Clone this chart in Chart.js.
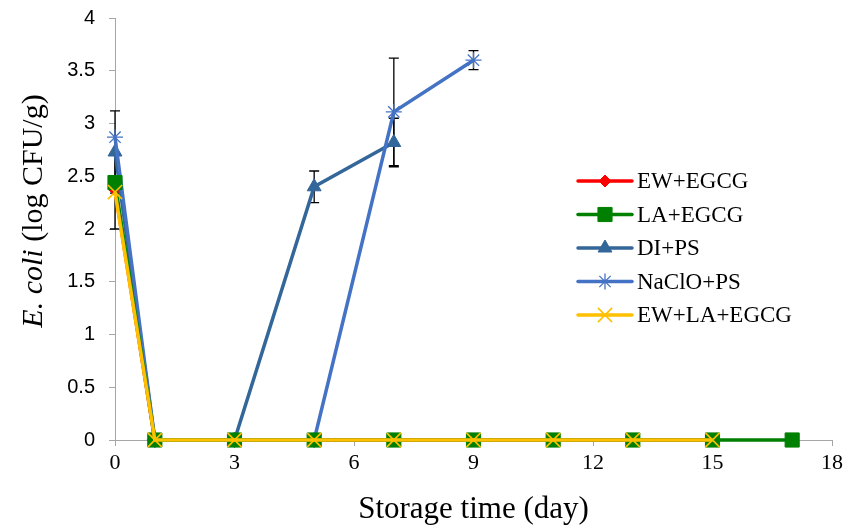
<!DOCTYPE html>
<html>
<head>
<meta charset="utf-8">
<script src="https://cdn.jsdelivr.net/npm/chart.js@4"></script>
<style>
  html, body { margin: 0; padding: 0; background: #ffffff; }
  #wrap { width: 846px; height: 528px; position: relative; }
</style>
</head>
<body>
<div id="wrap"><canvas id="c" width="846" height="528"></canvas></div>
<script>
// Storage days sampled for each treatment
const daysEW = [0, 1, 3, 5, 7, 9, 11, 13, 15];
const daysLA = [0, 1, 3, 5, 7, 9, 11, 13, 15, 17];
const daysDI = [0, 1, 3, 5, 7];
const daysNaClO = [0, 1, 3, 5, 7, 9];
const daysEWLA = [0, 1, 3, 5, 7, 9, 11, 13, 15];

// E. coli counts (log CFU/g)
const ewEgcg = [2.37, 0, 0, 0, 0, 0, 0, 0, 0];
const laEgcg = [2.44, 0, 0, 0, 0, 0, 0, 0, 0, 0];
const diPs = [2.73, 0, 0, 2.40, 2.82];
const naclo = [2.87, 0, 0, 0, 3.11, 3.60];
const ewLaEgcg = [2.35, 0, 0, 0, 0, 0, 0, 0, 0];

// Standard deviations (0 = no bar drawn)
const errEw = [0, 0, 0, 0, 0, 0, 0, 0, 0];
const errLa = [0, 0, 0, 0, 0, 0, 0, 0, 0, 0];
const errDi = [0.39, 0, 0, 0.15, 0.23];
const errNaClO = [0, 0, 0, 0, 0.51, 0.09];
const errEwLa = [0.35, 0, 0, 0, 0, 0, 0, 0, 0];

const seriesNames = ['EW+EGCG', 'LA+EGCG', 'DI+PS', 'NaClO+PS', 'EW+LA+EGCG'];
const xTicks = [0, 3, 6, 9, 12, 15, 18];

const pts = (xs, ys) => xs.map((x, i) => ({ x: x, y: ys[i] }));

const serif = "'Liberation Serif', 'Times New Roman', serif";
const sans = "'Liberation Sans', Arial, sans-serif";

const datasets = [
  { label: seriesNames[0], data: pts(daysEW, ewEgcg), err: errEw, borderColor: '#ff0000', backgroundColor: '#ff0000',
    pointStyle: 'rectRot', pointRadius: 6, order: 5 },
  { label: seriesNames[1], data: pts(daysLA, laEgcg), err: errLa, borderColor: '#008000', backgroundColor: '#008000',
    pointStyle: 'rect', pointRadius: 10, order: 2 },
  { label: seriesNames[2], data: pts(daysDI, diPs), err: errDi, borderColor: '#336699', backgroundColor: '#336699',
    pointStyle: 'triangle', pointRadius: 8, order: 4 },
  { label: seriesNames[3], data: pts(daysNaClO, naclo), err: errNaClO, borderColor: '#4472c4', backgroundColor: '#4472c4',
    pointStyle: 'star', pointRadius: 8, pointBorderWidth: 1.3, order: 3 },
  { label: seriesNames[4], data: pts(daysEWLA, ewLaEgcg), err: errEwLa, borderColor: '#ffc000', backgroundColor: '#ffc000',
    pointStyle: 'crossRot', pointRadius: 10, pointBorderWidth: 1.6, order: 1 }
];
datasets.forEach(d => {
  d.borderWidth = 3.5;
  d.tension = 0;
  d.fill = false;
  d.clip = false;
  if (!d.pointBorderWidth) d.pointBorderWidth = 1;
  d.pointBackgroundColor = d.backgroundColor;
  d.pointBorderColor = d.borderColor;
});

// Vertical error bars with caps, drawn beneath the markers
const errorBars = {
  id: 'errorBars',
  beforeDatasetsDraw(chart) {
    const ctx = chart.ctx, xs = chart.scales.x, ys = chart.scales.y;
    ctx.save();
    ctx.strokeStyle = '#000000';
    ctx.lineWidth = 1.3;
    chart.data.datasets.forEach(ds => {
      ds.data.forEach((p, i) => {
        const e = ds.err[i];
        if (!e) return;
        const px = xs.getPixelForValue(p.x);
        const top = ys.getPixelForValue(p.y + e);
        const bot = ys.getPixelForValue(p.y - e);
        ctx.beginPath();
        ctx.moveTo(px, top); ctx.lineTo(px, bot);
        ctx.moveTo(px - 5, top); ctx.lineTo(px + 5, top);
        ctx.moveTo(px - 5, bot); ctx.lineTo(px + 5, bot);
        ctx.stroke();
      });
    });
    ctx.restore();
  }
};

// Legend with line + marker samples, and the mixed-style y title
const extras = {
  id: 'extras',
  afterDraw(chart) {
    const ctx = chart.ctx;
    ctx.save();
    const x0 = 578, x1 = 632, tx = 637, y0 = 181, dy = 33.5;
    chart.data.datasets.forEach((ds, i) => {
      const y = y0 + i * dy;
      ctx.strokeStyle = ds.borderColor;
      ctx.lineWidth = 3.5;
      ctx.lineCap = 'round';
      ctx.beginPath(); ctx.moveTo(x0, y); ctx.lineTo(x1, y); ctx.stroke();
      ctx.lineCap = 'butt';
      ctx.fillStyle = ds.backgroundColor;
      ctx.strokeStyle = ds.borderColor;
      ctx.lineWidth = ds.pointBorderWidth;
      Chart.helpers.drawPoint(ctx, {
        pointStyle: ds.pointStyle, rotation: 0, borderWidth: ds.pointBorderWidth,
        radius: ds.pointRadius
      }, (x0 + x1) / 2, y);
      ctx.fillStyle = '#000000';
      ctx.font = '23px ' + serif;
      ctx.textBaseline = 'middle';
      ctx.textAlign = 'left';
      ctx.fillText(ds.label, tx, y + 1);
    });

    // y axis title: italic species name, upright unit
    ctx.translate(42, 211);
    ctx.rotate(-Math.PI / 2);
    ctx.textBaseline = 'alphabetic';
    ctx.fillStyle = '#000000';
    const part1 = 'E. coli', part2 = ' (log CFU/g)';
    ctx.font = 'italic 30px ' + serif;
    const w1 = ctx.measureText(part1).width;
    ctx.font = '30px ' + serif;
    const w2 = ctx.measureText(part2).width;
    const start = -(w1 + w2) / 2;
    ctx.textAlign = 'left';
    ctx.font = 'italic 30px ' + serif;
    ctx.fillText(part1, start, 0);
    ctx.font = '30px ' + serif;
    ctx.fillText(part2, start + w1, 0);
    ctx.restore();
  }
};

new Chart(document.getElementById('c'), {
  type: 'line',
  data: { datasets: datasets },
  options: {
    responsive: false,
    animation: false,
    devicePixelRatio: 1,
    layout: { padding: { left: 0, right: 14, top: 18, bottom: 0 } },
    plugins: { legend: { display: false }, tooltip: { enabled: false } },
    scales: {
      x: {
        type: 'linear', min: 0, max: 18,
        afterBuildTicks(s) { s.ticks = xTicks.map(v => ({ value: v })); },
        afterFit(s) { s.height = 88; s.paddingLeft = 0; s.paddingRight = 0; },
        border: { color: '#a6a6a6', width: 1 },
        grid: { drawOnChartArea: false, drawTicks: true, tickLength: 6, color: '#a6a6a6' },
        ticks: { color: '#000000', font: { family: serif, size: 22 }, padding: 4, maxRotation: 0 },
        title: { display: true, text: 'Storage time (day)', color: '#000000',
                 font: { family: serif, size: 31 }, padding: { top: 2, bottom: 0 } }
      },
      y: {
        min: 0, max: 4,
        afterFit(s) { s.width = 115; s.paddingTop = 0; s.paddingBottom = 0; },
        border: { color: '#a6a6a6', width: 1 },
        grid: { drawOnChartArea: false, drawTicks: true, tickLength: 6, color: '#a6a6a6' },
        ticks: { stepSize: 0.5, color: '#000000', font: { family: sans, size: 20 }, padding: 14,
                 callback: v => String(Number(v)) }
      }
    }
  },
  plugins: [errorBars, extras]
});
</script>
</body>
</html>
